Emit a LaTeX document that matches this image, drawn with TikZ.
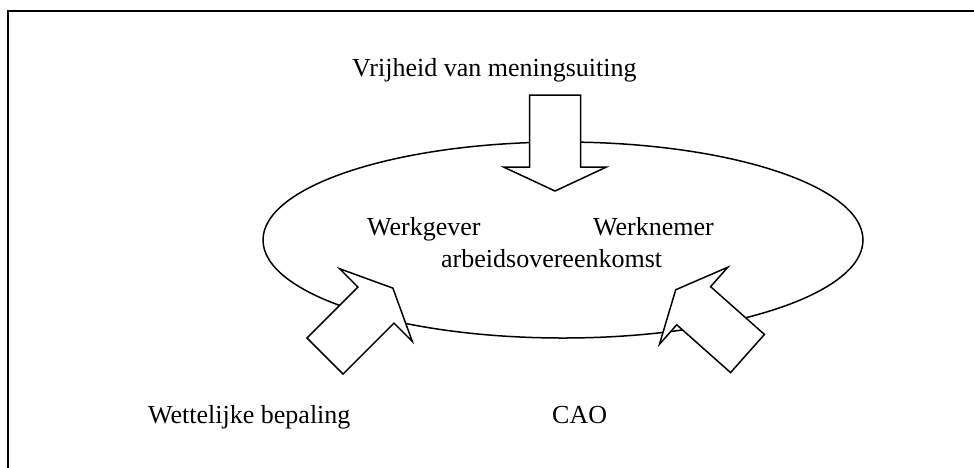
\documentclass[tikz,border=0pt]{standalone}
\usepackage{fontspec}
\setmainfont{Liberation Serif}
\usetikzlibrary{shapes.geometric}
\tikzset{
  lbl/.style={inner sep=0pt, anchor=base west, font=\fontsize{26}{30}\selectfont},
  blockarrow/.style={draw=black, fill=white, line width=1.5pt, line join=miter},
  frameline/.style={line width=2.6pt}
}
\newcommand{\blockarr}[3]{%
  \draw[blockarrow, shift={(#1,#2)}, rotate=#3]
    (0,-25.5) -- (72,-25.5) -- (72,-51.5) -- (96,0) -- (72,51.5) -- (72,25.5) -- (0,25.5) -- cycle;}
\begin{document}
\begin{tikzpicture}[x=1pt,y=-1pt]
\useasboundingbox (0,0) rectangle (974,467);
\fill[white] (0,0) rectangle (974,467);
\draw[frameline] (8,470) -- (8,11) -- (980,11);
\node[draw, line width=1.5pt, ellipse, minimum width=600pt, minimum height=196pt, inner sep=0pt] (circ) at (563,240) {};
\blockarr{555}{95}{-90}
\blockarr{325}{356}{45}
\blockarr{747.5}{353.5}{138.4}
\node[lbl] (vrij) at (352,76) {Vrijheid van meningsuiting};
\node[lbl] (wg) at (367,235) {Werkgever};
\node[lbl] (wn) at (593,235) {Werknemer};
\node[lbl] (ao) at (441,267) {arbeidsovereenkomst};
\node[lbl] (wb) at (148,423) {Wettelijke bepaling};
\node[lbl] (cao) at (552,423) {CAO};
\end{tikzpicture}
\end{document}
